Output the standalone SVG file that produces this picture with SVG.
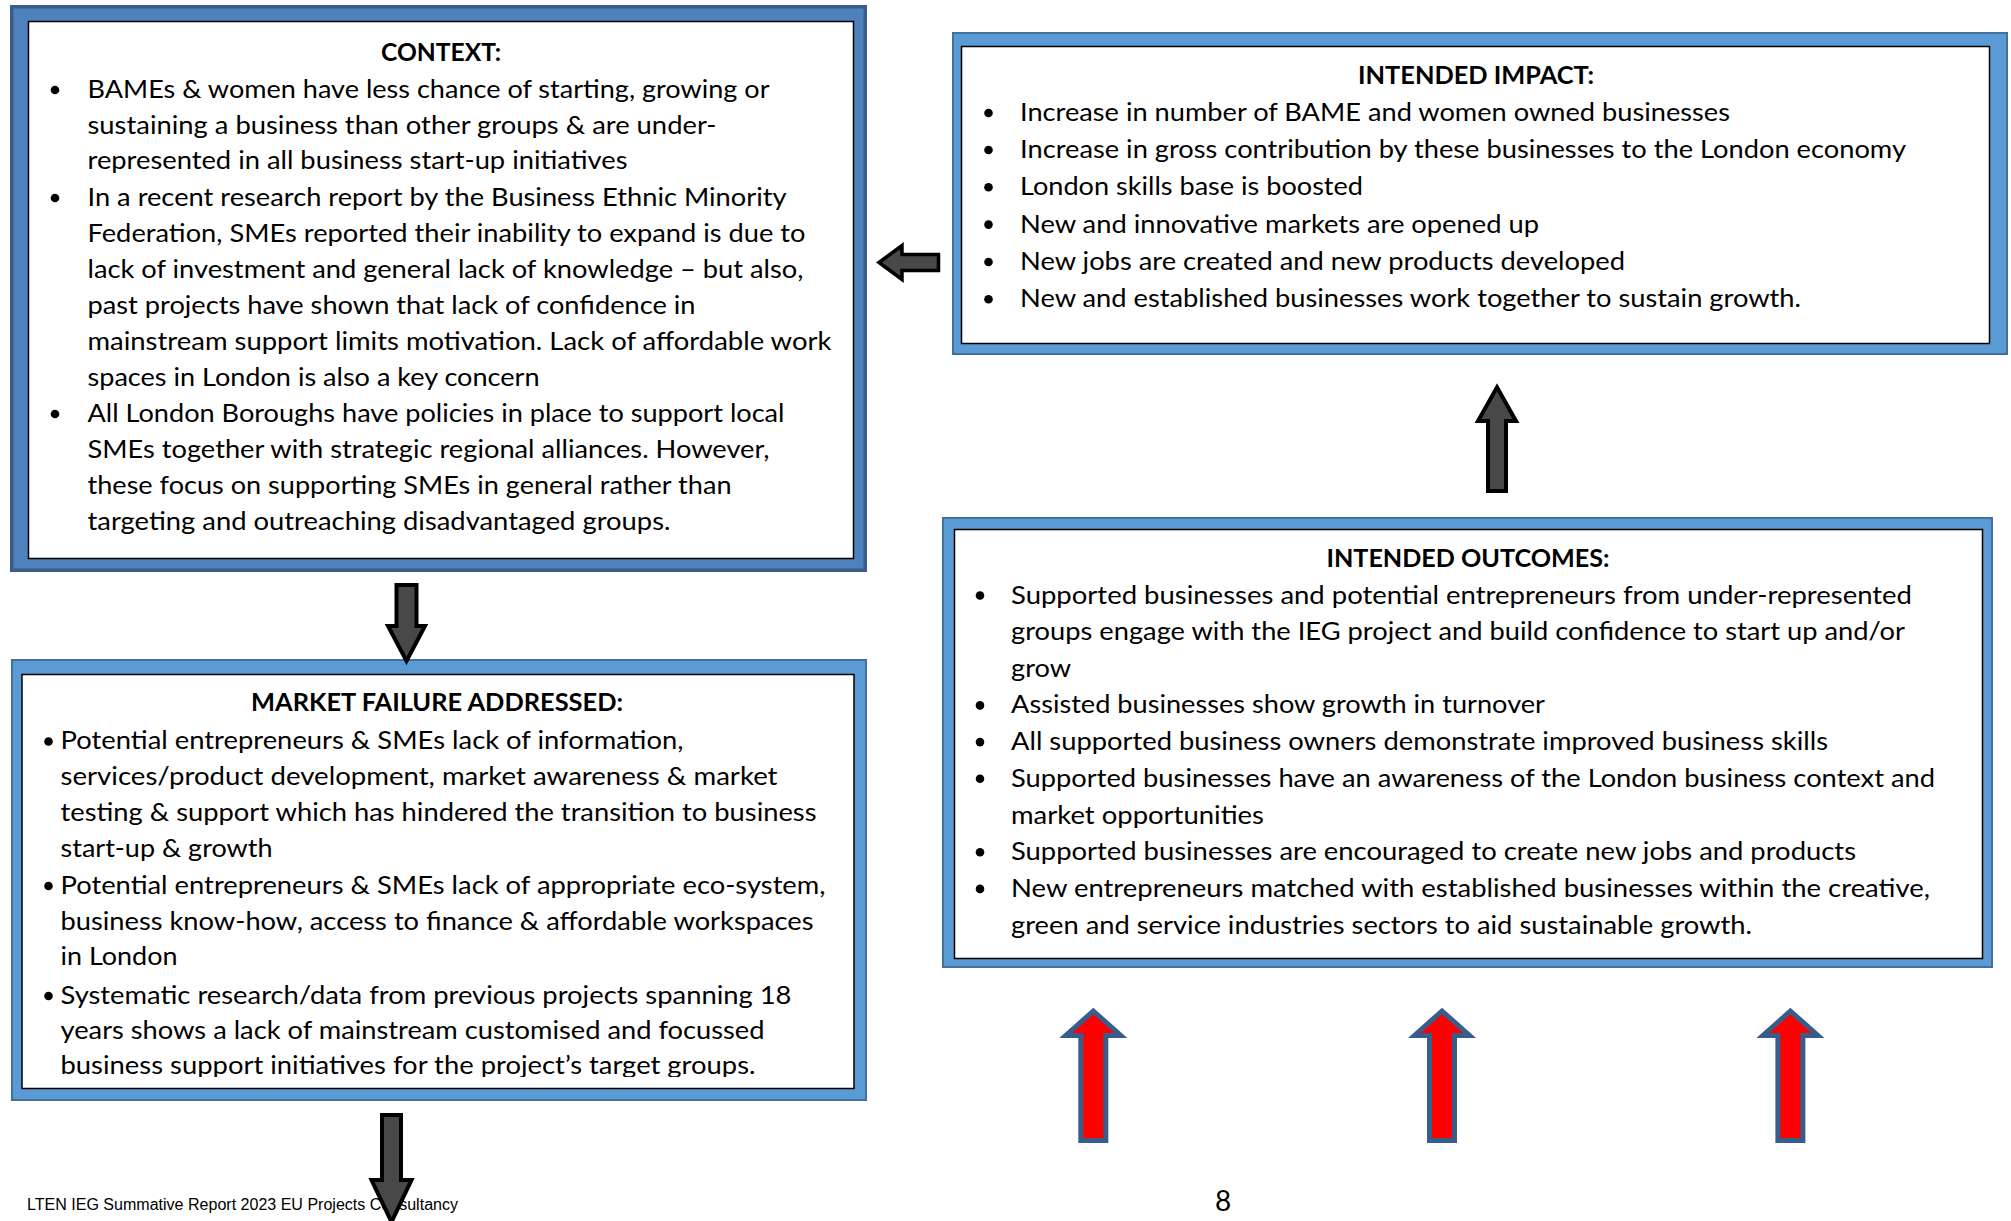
<svg xmlns="http://www.w3.org/2000/svg" width="2011" height="1221" viewBox="0 0 2011 1221">
<style>
.frame1{fill:#4F81BD;stroke:#385D8A;stroke-width:3.5}
.frame2{fill:#5B9BD5;stroke:#41719C;stroke-width:2}
.panel{fill:#FFFFFF;stroke:#000000;stroke-width:1.5}
.t{font-family:Lato,"Open Sans","Liberation Sans",sans-serif;font-size:25px;fill:#000}
.h{font-family:Lato,"Open Sans","Liberation Sans",sans-serif;font-size:25px;font-weight:700;fill:#000;text-anchor:middle}
.dot{fill:#000}
.arrow{fill:#484848;stroke:#000;stroke-width:4;stroke-linejoin:miter}
.red{fill:#FF0000;stroke:#385D8A;stroke-width:5;stroke-linejoin:miter}
.foot{font-family:"Liberation Sans",Arial,sans-serif;font-size:16px;fill:#000}
.pg{font-family:Lato,"Open Sans",sans-serif;font-size:28px;fill:#000;text-anchor:middle}
</style>
<defs>
<clipPath id="mclip"><rect x="22" y="674" width="832" height="403"/></clipPath>
</defs>
<rect width="2011" height="1221" fill="#FFFFFF"/>

<g id="context">
<rect class="frame1" x="11.75" y="6.75" width="853.5" height="563.5"/>
<rect class="panel" x="28.5" y="21.5" width="825" height="537"/>
<text class="h" x="441" y="61" textLength="120" lengthAdjust="spacingAndGlyphs">CONTEXT:</text>
<circle class="dot" cx="55" cy="90" r="4.3"/>
<circle class="dot" cx="55" cy="198" r="4.3"/>
<circle class="dot" cx="55" cy="414" r="4.3"/>
<g class="t">
<text x="87.5" y="98" textLength="682" lengthAdjust="spacingAndGlyphs">BAMEs &amp; women have less chance of starting, growing or</text>
<text x="87.5" y="133.5" textLength="629" lengthAdjust="spacingAndGlyphs">sustaining a business than other groups &amp; are under-</text>
<text x="87.5" y="168.5" textLength="540" lengthAdjust="spacingAndGlyphs">represented in all business start-up initiatives</text>
<text x="87.5" y="206" textLength="699" lengthAdjust="spacingAndGlyphs">In a recent research report by the Business Ethnic Minority</text>
<text x="87.5" y="241.5" textLength="718" lengthAdjust="spacingAndGlyphs">Federation, SMEs reported their inability to expand is due to</text>
<text x="87.5" y="278" textLength="716" lengthAdjust="spacingAndGlyphs">lack of investment and general lack of knowledge – but also,</text>
<text x="87.5" y="314" textLength="608" lengthAdjust="spacingAndGlyphs">past projects have shown that lack of confidence in</text>
<text x="87.5" y="349.5" textLength="744" lengthAdjust="spacingAndGlyphs">mainstream support limits motivation. Lack of affordable work</text>
<text x="87.5" y="385.5" textLength="452" lengthAdjust="spacingAndGlyphs">spaces in London is also a key concern</text>
<text x="87.5" y="422" textLength="697" lengthAdjust="spacingAndGlyphs">All London Boroughs have policies in place to support local</text>
<text x="87.5" y="457.5" textLength="682" lengthAdjust="spacingAndGlyphs">SMEs together with strategic regional alliances. However,</text>
<text x="87.5" y="494" textLength="644" lengthAdjust="spacingAndGlyphs">these focus on supporting SMEs in general rather than</text>
<text x="87.5" y="529.5" textLength="583" lengthAdjust="spacingAndGlyphs">targeting and outreaching disadvantaged groups.</text>
</g>
</g>

<g id="intended-impact">
<rect class="frame2" x="953" y="33" width="1054" height="321"/>
<rect class="panel" x="961.5" y="46.5" width="1028" height="297"/>
<text class="h" x="1476" y="84" textLength="236" lengthAdjust="spacingAndGlyphs">INTENDED IMPACT:</text>
<circle class="dot" cx="988.5" cy="113" r="4.3"/>
<circle class="dot" cx="988.5" cy="150" r="4.3"/>
<circle class="dot" cx="988.5" cy="187.3" r="4.3"/>
<circle class="dot" cx="988.5" cy="224.6" r="4.3"/>
<circle class="dot" cx="988.5" cy="262" r="4.3"/>
<circle class="dot" cx="988.5" cy="299.3" r="4.3"/>
<g class="t">
<text x="1020" y="121" textLength="710" lengthAdjust="spacingAndGlyphs">Increase in number of BAME and women owned businesses</text>
<text x="1020" y="158" textLength="886" lengthAdjust="spacingAndGlyphs">Increase in gross contribution by these businesses to the London economy</text>
<text x="1020" y="195.3" textLength="343" lengthAdjust="spacingAndGlyphs">London skills base is boosted</text>
<text x="1020" y="232.6" textLength="519" lengthAdjust="spacingAndGlyphs">New and innovative markets are opened up</text>
<text x="1020" y="270" textLength="605" lengthAdjust="spacingAndGlyphs">New jobs are created and new products developed</text>
<text x="1020" y="307.3" textLength="781" lengthAdjust="spacingAndGlyphs">New and established businesses work together to sustain growth.</text>
</g>
</g>

<g id="market-failure">
<rect class="frame2" x="12" y="660" width="854" height="440"/>
<rect class="panel" x="22" y="674.5" width="832" height="414"/>
<text class="h" x="437" y="711" textLength="372" lengthAdjust="spacingAndGlyphs">MARKET FAILURE ADDRESSED:</text>
<circle class="dot" cx="48.5" cy="741.5" r="4.3"/>
<circle class="dot" cx="48.5" cy="886" r="4.3"/>
<circle class="dot" cx="48.5" cy="996" r="4.3"/>
<g class="t" clip-path="url(#mclip)">
<text x="60.5" y="749.4" textLength="623" lengthAdjust="spacingAndGlyphs">Potential entrepreneurs &amp; SMEs lack of information,</text>
<text x="60.5" y="785" textLength="717" lengthAdjust="spacingAndGlyphs">services/product development, market awareness &amp; market</text>
<text x="60.5" y="821" textLength="756" lengthAdjust="spacingAndGlyphs">testing &amp; support which has hindered the transition to business</text>
<text x="60.5" y="856.5" textLength="212" lengthAdjust="spacingAndGlyphs">start-up &amp; growth</text>
<text x="60.5" y="893.8" textLength="765" lengthAdjust="spacingAndGlyphs">Potential entrepreneurs &amp; SMEs lack of appropriate eco-system,</text>
<text x="60.5" y="929.5" textLength="753" lengthAdjust="spacingAndGlyphs">business know-how, access to finance &amp; affordable workspaces</text>
<text x="60.5" y="965" textLength="117" lengthAdjust="spacingAndGlyphs">in London</text>
<text x="60.5" y="1004" textLength="731" lengthAdjust="spacingAndGlyphs">Systematic research/data from previous projects spanning 18</text>
<text x="60.5" y="1039" textLength="704" lengthAdjust="spacingAndGlyphs">years shows a lack of mainstream customised and focussed</text>
<text x="60.5" y="1074.4" textLength="695" lengthAdjust="spacingAndGlyphs">business support initiatives for the project’s target groups.</text>
</g>
</g>

<g id="intended-outcomes">
<rect class="frame2" x="943" y="518" width="1049" height="449"/>
<rect class="panel" x="954.5" y="529.5" width="1028" height="429"/>
<text class="h" x="1468" y="567" textLength="283" lengthAdjust="spacingAndGlyphs">INTENDED OUTCOMES:</text>
<circle class="dot" cx="980" cy="595.5" r="4.3"/>
<circle class="dot" cx="980" cy="705.4" r="4.3"/>
<circle class="dot" cx="980" cy="742.1" r="4.3"/>
<circle class="dot" cx="980" cy="778.8" r="4.3"/>
<circle class="dot" cx="980" cy="852.2" r="4.3"/>
<circle class="dot" cx="980" cy="888.9" r="4.3"/>
<g class="t">
<text x="1011" y="603.5" textLength="901" lengthAdjust="spacingAndGlyphs">Supported businesses and potential entrepreneurs from under-represented</text>
<text x="1011" y="640" textLength="894" lengthAdjust="spacingAndGlyphs">groups engage with the IEG project and build confidence to start up and/or</text>
<text x="1011" y="676.7" textLength="60" lengthAdjust="spacingAndGlyphs">grow</text>
<text x="1011" y="713.4" textLength="534" lengthAdjust="spacingAndGlyphs">Assisted businesses show growth in turnover</text>
<text x="1011" y="750.1" textLength="817" lengthAdjust="spacingAndGlyphs">All supported business owners demonstrate improved business skills</text>
<text x="1011" y="786.8" textLength="924" lengthAdjust="spacingAndGlyphs">Supported businesses have an awareness of the London business context and</text>
<text x="1011" y="823.5" textLength="253" lengthAdjust="spacingAndGlyphs">market opportunities</text>
<text x="1011" y="860.2" textLength="845" lengthAdjust="spacingAndGlyphs">Supported businesses are encouraged to create new jobs and products</text>
<text x="1011" y="896.9" textLength="919" lengthAdjust="spacingAndGlyphs">New entrepreneurs matched with established businesses within the creative,</text>
<text x="1011" y="933.6" textLength="741" lengthAdjust="spacingAndGlyphs">green and service industries sectors to aid sustainable growth.</text>
</g>
</g>

<g id="footer">
<text class="foot" x="27" y="1209.5" textLength="431" lengthAdjust="spacingAndGlyphs">LTEN IEG Summative Report 2023 EU Projects Consultancy</text>
<text class="pg" x="1223" y="1210.5">8</text>
</g>

<g id="connectors">
<path class="arrow" style="stroke-width:3.5" d="M879,262.5 L902,245.5 L902,254.5 L938.5,254.5 L938.5,270.5 L902,270.5 L902,279.5 Z"/>
<path class="arrow" d="M396.5,585 L416.5,585 L416.5,626 L425,626 L406.5,661 L388,626 L396.5,626 Z"/>
<path class="arrow" d="M1497,387.3 L1516,421 L1506,421 L1506,491 L1488,491 L1488,421 L1478,421 Z"/>
<path class="arrow" d="M382,1115 L401,1115 L401,1180 L411.5,1180 L391.5,1222 L371.5,1180 L382,1180 Z"/>
<path class="red" d="M1093.3,1011 L1120.8,1035.5 L1105.8,1035.5 L1105.8,1140.5 L1080.8,1140.5 L1080.8,1035.5 L1065.8,1035.5 Z"/>
<path class="red" d="M1442,1011 L1469.5,1035.5 L1454.5,1035.5 L1454.5,1140.5 L1429.5,1140.5 L1429.5,1035.5 L1414.5,1035.5 Z"/>
<path class="red" d="M1790.4,1011 L1817.9,1035.5 L1802.9,1035.5 L1802.9,1140.5 L1777.9,1140.5 L1777.9,1035.5 L1762.9,1035.5 Z"/>
</g>
</svg>
